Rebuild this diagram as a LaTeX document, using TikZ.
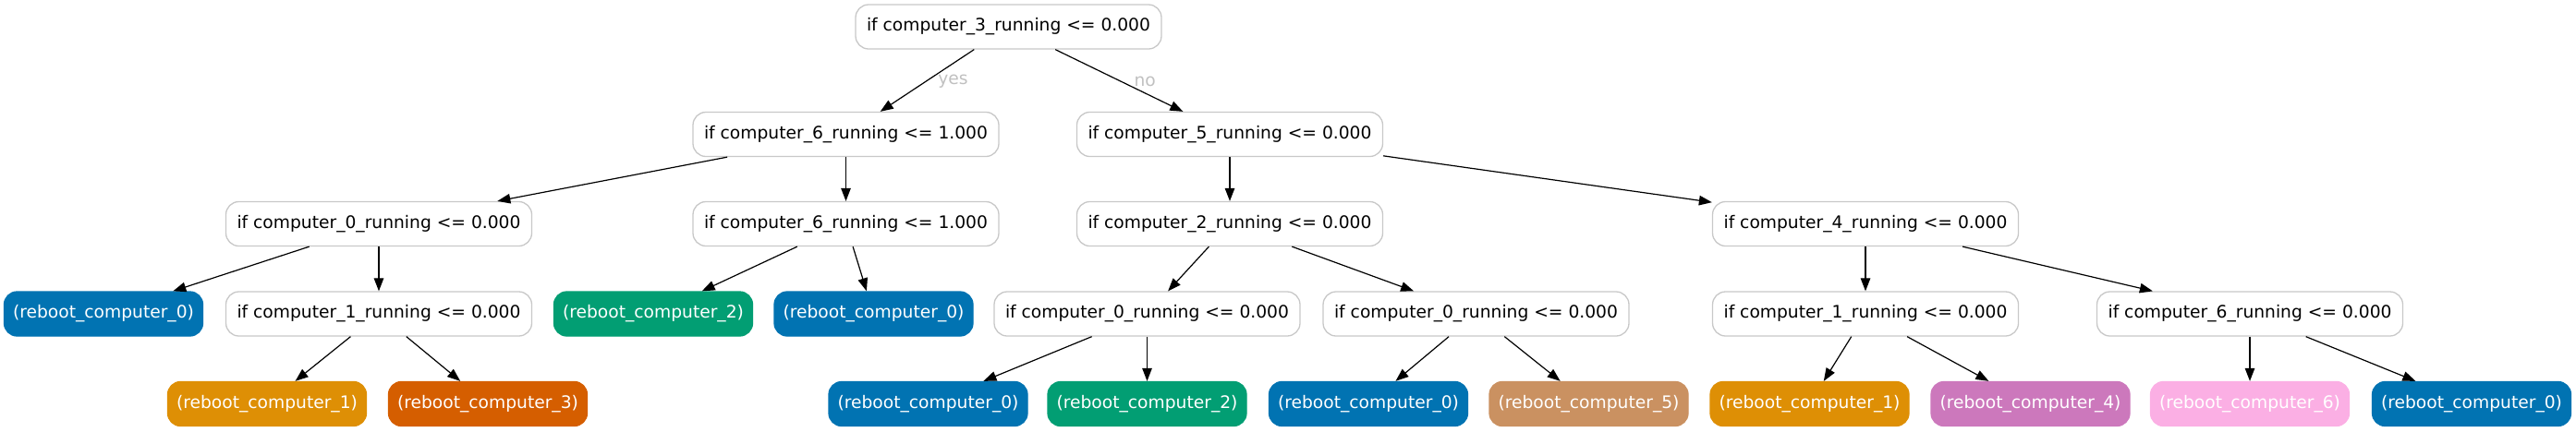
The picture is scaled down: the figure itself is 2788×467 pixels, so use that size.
\documentclass[tikz,border=0pt]{standalone}
\usepackage{fontspec}
\setmainfont{DejaVu Sans}
\usetikzlibrary{arrows.meta}
\definecolor{boxgray}{HTML}{C8C8C8}
\definecolor{labelgray}{HTML}{C0C0C0}
\definecolor{leafblue}{HTML}{0173B2}
\definecolor{leafgreen}{HTML}{029E73}
\definecolor{leaforange}{HTML}{DE8F05}
\definecolor{leafred}{HTML}{D55E00}
\definecolor{leafbrown}{HTML}{CA9161}
\definecolor{leafpink}{HTML}{CC78BC}
\definecolor{leaflight}{HTML}{FBAFE4}

\begin{document}
\begin{tikzpicture}[x=1pt,y=-1pt,>={Triangle[length=14pt,width=10.5pt]},
    test/.style={draw=boxgray,line width=1.3pt,fill=white,rounded corners=14pt,minimum width=331pt,minimum height=48pt,inner sep=0pt,font=\fontsize{18.67}{22}\selectfont},
    leaf/.style={draw=#1,line width=1.3pt,fill=#1,text=white,rounded corners=14pt,minimum width=215pt,minimum height=48pt,inner sep=0pt,font=\fontsize{18.67}{22}\selectfont},
    link/.style={->,line width=1.2pt},
    answer/.style={text=labelgray,font=\fontsize{18.67}{22}\selectfont,xshift=28pt,yshift=-1pt}]
        \useasboundingbox (0,0) rectangle (2788,467);
        % decision nodes
        \node[test] (root) at (1091.5,29) {if computer\_3\_running <= 0.000};
        \node[test] (c6a) at (915.5,145.5) {if computer\_6\_running <= 1.000};
        \node[test] (c5) at (1331,145.5) {if computer\_5\_running <= 0.000};
        \node[test] (c0a) at (410,242.5) {if computer\_0\_running <= 0.000};
        \node[test] (c6b) at (915.5,242.5) {if computer\_6\_running <= 1.000};
        \node[test] (c2) at (1331,242.5) {if computer\_2\_running <= 0.000};
        \node[test] (c4) at (2019,242.5) {if computer\_4\_running <= 0.000};
        \node[test] (c1a) at (410,340) {if computer\_1\_running <= 0.000};
        \node[test] (c0b) at (1241.5,340) {if computer\_0\_running <= 0.000};
        \node[test] (c0c) at (1597.5,340) {if computer\_0\_running <= 0.000};
        \node[test] (c1b) at (2019,340) {if computer\_1\_running <= 0.000};
        \node[test] (c6c) at (2435,340) {if computer\_6\_running <= 0.000};
        % leaves
        \node[leaf=leafblue] (r0a) at (112,340) {(reboot\_computer\_0)};
        \node[leaf=leafgreen] (r2a) at (707,340) {(reboot\_computer\_2)};
        \node[leaf=leafblue] (r0b) at (945.5,340) {(reboot\_computer\_0)};
        \node[leaf=leaforange] (r1a) at (289,437.5) {(reboot\_computer\_1)};
        \node[leaf=leafred] (r3) at (528,437.5) {(reboot\_computer\_3)};
        \node[leaf=leafblue] (r0c) at (1004.5,437.5) {(reboot\_computer\_0)};
        \node[leaf=leafgreen] (r2b) at (1241.5,437.5) {(reboot\_computer\_2)};
        \node[leaf=leafblue] (r0d) at (1481,437.5) {(reboot\_computer\_0)};
        \node[leaf=leafbrown] (r5) at (1719.5,437.5) {(reboot\_computer\_5)};
        \node[leaf=leaforange] (r1b) at (1958.5,437.5) {(reboot\_computer\_1)};
        \node[leaf=leafpink] (r4) at (2197.5,437.5) {(reboot\_computer\_4)};
        \node[leaf=leaflight] (r6) at (2435,437.5) {(reboot\_computer\_6)};
        \node[leaf=leafblue] (r0e) at (2675,437.5) {(reboot\_computer\_0)};
        % edges
        \draw[link] (root) -- node[answer] {yes} (c6a);
        \draw[link] (root) -- node[answer] {no} (c5);
        \draw[link] (c6a) -- (c0a);
        \draw[link] (c6a) -- (c6b);
        \draw[link] (c5) -- (c2);
        \draw[link] (c5) -- (c4);
        \draw[link] (c0a) -- (r0a);
        \draw[link] (c0a) -- (c1a);
        \draw[link] (c6b) -- (r2a);
        \draw[link] (c6b) -- (r0b);
        \draw[link] (c2) -- (c0b);
        \draw[link] (c2) -- (c0c);
        \draw[link] (c4) -- (c1b);
        \draw[link] (c4) -- (c6c);
        \draw[link] (c1a) -- (r1a);
        \draw[link] (c1a) -- (r3);
        \draw[link] (c0b) -- (r0c);
        \draw[link] (c0b) -- (r2b);
        \draw[link] (c0c) -- (r0d);
        \draw[link] (c0c) -- (r5);
        \draw[link] (c1b) -- (r1b);
        \draw[link] (c1b) -- (r4);
        \draw[link] (c6c) -- (r6);
        \draw[link] (c6c) -- (r0e);
    \end{tikzpicture}
\end{document}
